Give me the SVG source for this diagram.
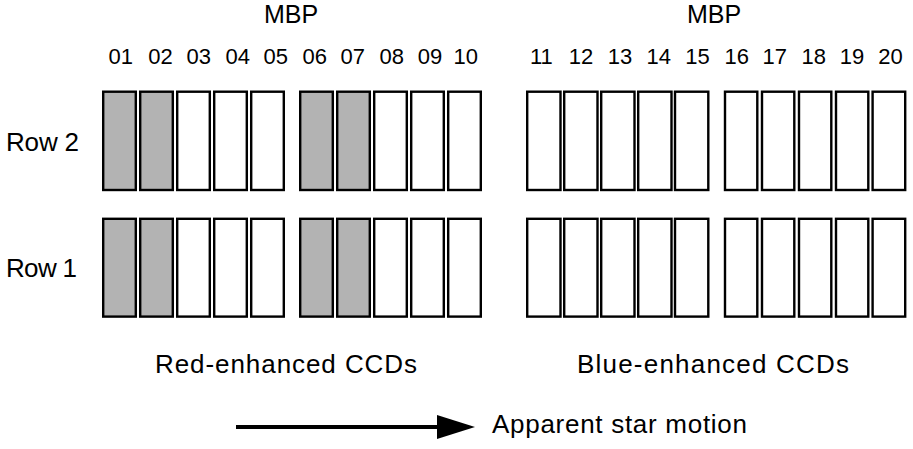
<svg xmlns="http://www.w3.org/2000/svg" width="913" height="449" viewBox="0 0 913 449">
<style>
text{font-family:"Liberation Sans",Arial,sans-serif;fill:#000}
.t{font-size:26px}
.m{font-size:25px;text-anchor:middle}
.n{font-size:22px;text-anchor:middle}
.c{fill:#fff;stroke:#000;stroke-width:2.4}
.g{fill:#b3b3b3}
</style>
<rect width="913" height="449" fill="#fff"/>
<g id="labels">
<text class="m" x="291" y="22.5">MBP</text>
<text class="m" x="714" y="22.5">MBP</text>
<text class="n" x="120.7" y="64">01</text>
<text class="n" x="160.5" y="64">02</text>
<text class="n" x="198.7" y="64">03</text>
<text class="n" x="237.7" y="64">04</text>
<text class="n" x="275.8" y="64">05</text>
<text class="n" x="314.7" y="64">06</text>
<text class="n" x="352.8" y="64">07</text>
<text class="n" x="391.7" y="64">08</text>
<text class="n" x="430" y="64">09</text>
<text class="n" x="465.8" y="64">10</text>
<text class="n" x="541.3" y="64">11</text>
<text class="n" x="581" y="64">12</text>
<text class="n" x="620" y="64">13</text>
<text class="n" x="658.7" y="64">14</text>
<text class="n" x="697.5" y="64">15</text>
<text class="n" x="736.7" y="64">16</text>
<text class="n" x="774.7" y="64">17</text>
<text class="n" x="813.8" y="64">18</text>
<text class="n" x="852" y="64">19</text>
<text class="n" x="890.5" y="64">20</text>
<text class="t" x="6" y="150.7" textLength="73" lengthAdjust="spacing">Row 2</text>
<text class="t" x="6" y="277.3" textLength="71" lengthAdjust="spacing">Row 1</text>
<text class="t" x="155" y="373.3" textLength="262" lengthAdjust="spacing">Red-enhanced CCDs</text>
<text class="t" x="577" y="373.3" textLength="272" lengthAdjust="spacing">Blue-enhanced CCDs</text>
<text class="t" x="492" y="433.3" textLength="255" lengthAdjust="spacing">Apparent star motion</text>
</g>
<g id="row2">
<rect class="c g" x="103.2" y="91.7" width="32.6" height="98.3"/>
<rect class="c g" x="140.2" y="91.7" width="32.6" height="98.3"/>
<rect class="c" x="177.2" y="91.7" width="32.6" height="98.3"/>
<rect class="c" x="214.2" y="91.7" width="32.6" height="98.3"/>
<rect class="c" x="251.2" y="91.7" width="32.6" height="98.3"/>
<rect class="c g" x="300.2" y="91.7" width="32.6" height="98.3"/>
<rect class="c g" x="337.2" y="91.7" width="32.6" height="98.3"/>
<rect class="c" x="374.2" y="91.7" width="32.6" height="98.3"/>
<rect class="c" x="411.2" y="91.7" width="32.6" height="98.3"/>
<rect class="c" x="448.2" y="91.7" width="32.6" height="98.3"/>
<rect class="c" x="527.2" y="91.7" width="33.3" height="98.3"/>
<rect class="c" x="564.2" y="91.7" width="33.3" height="98.3"/>
<rect class="c" x="601.2" y="91.7" width="33.3" height="98.3"/>
<rect class="c" x="638.2" y="91.7" width="33.3" height="98.3"/>
<rect class="c" x="675" y="91.7" width="33.3" height="98.3"/>
<rect class="c" x="725" y="91.7" width="32.3" height="98.3"/>
<rect class="c" x="762" y="91.7" width="32.3" height="98.3"/>
<rect class="c" x="799" y="91.7" width="32.3" height="98.3"/>
<rect class="c" x="836" y="91.7" width="32.3" height="98.3"/>
<rect class="c" x="872.6" y="91.7" width="32.6" height="98.3"/>
</g>
<g id="row1">
<rect class="c g" x="103.2" y="218.8" width="32.6" height="97.8"/>
<rect class="c g" x="140.2" y="218.8" width="32.6" height="97.8"/>
<rect class="c" x="177.2" y="218.8" width="32.6" height="97.8"/>
<rect class="c" x="214.2" y="218.8" width="32.6" height="97.8"/>
<rect class="c" x="251.2" y="218.8" width="32.6" height="97.8"/>
<rect class="c g" x="300.2" y="218.8" width="32.6" height="97.8"/>
<rect class="c g" x="337.2" y="218.8" width="32.6" height="97.8"/>
<rect class="c" x="374.2" y="218.8" width="32.6" height="97.8"/>
<rect class="c" x="411.2" y="218.8" width="32.6" height="97.8"/>
<rect class="c" x="448.2" y="218.8" width="32.6" height="97.8"/>
<rect class="c" x="527.2" y="218.8" width="33.3" height="97.8"/>
<rect class="c" x="564.2" y="218.8" width="33.3" height="97.8"/>
<rect class="c" x="601.2" y="218.8" width="33.3" height="97.8"/>
<rect class="c" x="638.2" y="218.8" width="33.3" height="97.8"/>
<rect class="c" x="675" y="218.8" width="33.3" height="97.8"/>
<rect class="c" x="725" y="218.8" width="32.3" height="97.8"/>
<rect class="c" x="762" y="218.8" width="32.3" height="97.8"/>
<rect class="c" x="799" y="218.8" width="32.3" height="97.8"/>
<rect class="c" x="836" y="218.8" width="32.3" height="97.8"/>
<rect class="c" x="872.6" y="218.8" width="32.6" height="97.8"/>
</g>
<g id="connectors">
<line x1="236" y1="427" x2="440" y2="427" stroke="#000" stroke-width="4"/>
<polygon points="437,415 475,427 437,439" fill="#000"/>
</g>
</svg>
